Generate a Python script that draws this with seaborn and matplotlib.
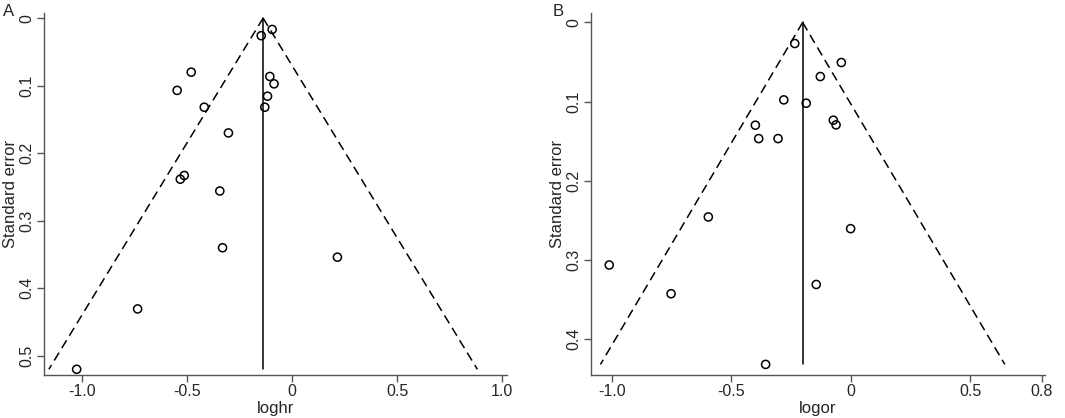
import matplotlib
matplotlib.use("Agg")
import matplotlib.pyplot as plt
import seaborn as sns
import numpy as np
import pandas as pd

# ---- Data: panel A (loghr) ----
a_loghr = [-0.095, -0.147, -0.480, -0.106, -0.086, -0.547, -0.117, -0.418, -0.130,
           -0.303, -0.513, -0.532, -0.344, -0.331, 0.2155, -0.735, -1.025]
a_se = [0.0168, 0.026, 0.080, 0.0864, 0.0973, 0.107, 0.1156, 0.1319, 0.1319,
        0.170, 0.233, 0.2385, 0.256, 0.340, 0.354, 0.4306, 0.520]
a_pooled = -0.138
a_se_max = 0.520

# ---- Data: panel B (logor) ----
b_logor = [-0.234, -0.039, -0.127, -0.280, -0.186, -0.399, -0.0725, -0.061,
           -0.385, -0.304, -0.596, 0.000, -1.011, -0.144, -0.752, -0.356]
b_se = [0.0266, 0.0506, 0.0683, 0.0978, 0.102, 0.1298, 0.1235, 0.1294,
        0.1467, 0.1467, 0.2457, 0.2605, 0.3064, 0.331, 0.3427, 0.432]
b_pooled = -0.201
b_se_max = 0.432

a_xticks = [-1.0, -0.5, 0, 0.5, 1.0]
a_xticklabels = ["-1.0", "-0.5", "0", "0.5", "1.0"]
a_yticks = [0, 0.1, 0.2, 0.3, 0.4, 0.5]
b_xticks = [-1.0, -0.5, 0, 0.5, 0.8]
b_xticklabels = ["-1.0", "-0.5", "0", "0.5", "0.8"]
b_yticks = [0, 0.1, 0.2, 0.3, 0.4]

sns.set_theme(style="ticks")
plt.rcParams['font.family'] = ['Liberation Sans', 'DejaVu Sans']

fig = plt.figure(figsize=(10.65, 4.18), dpi=100)
axA = fig.add_axes([0.041, 0.1036, 0.435, 0.865])
axB = fig.add_axes([0.555, 0.1036, 0.426, 0.865])

spine_col = "#555555"


def funnel(ax, x, se, pooled, se_max, xlab, xticks, xticklabels, yticks, xlim, ylim):
    df = pd.DataFrame({"x": x, "se": se})
    sns.scatterplot(data=df, x="x", y="se", ax=ax, marker="o", s=34,
                    facecolor="none", edgecolor="black", linewidth=1.1, zorder=3)
    ses = np.array([0.0, se_max])
    ax.plot(pooled - 1.96 * ses, ses, color="black", lw=1.1, ls=(0, (6, 3.5)))
    ax.plot(pooled + 1.96 * ses, ses, color="black", lw=1.1, ls=(0, (6, 3.5)))
    ax.plot([pooled, pooled], [0, se_max], color="black", lw=1.1)
    ax.set_xlim(*xlim)
    ax.set_ylim(ylim[1], ylim[0])
    ax.set_xticks(xticks)
    ax.set_xticklabels(xticklabels)
    ax.set_yticks(yticks)
    ax.set_yticklabels([("0" if v == 0 else f"{v:.1f}") for v in yticks],
                       rotation=90, va="center")
    ax.set_xlabel(xlab, fontsize=12, labelpad=1)
    ax.set_ylabel("Standard error", fontsize=12, labelpad=1)
    ax.tick_params(axis="both", labelsize=11.5, length=5, width=1, color=spine_col, pad=2)
    for s in ["top", "right"]:
        ax.spines[s].set_visible(False)
    for s in ["left", "bottom"]:
        ax.spines[s].set_color(spine_col)
        ax.spines[s].set_linewidth(1.0)


funnel(axA, a_loghr, a_se, a_pooled, a_se_max, "loghr", a_xticks, a_xticklabels,
       a_yticks, (-1.182, 1.022), (-0.0074, 0.528))
funnel(axB, b_logor, b_se, b_pooled, b_se_max, "logor", b_xticks, b_xticklabels,
       b_yticks, (-1.087, 0.813), (-0.0118, 0.445))

fig.text(0.003, 0.99, "A", fontsize=12, va="top", ha="left")
fig.text(0.519, 0.99, "B", fontsize=12, va="top", ha="left")

fig.savefig("out.png", dpi=100)
